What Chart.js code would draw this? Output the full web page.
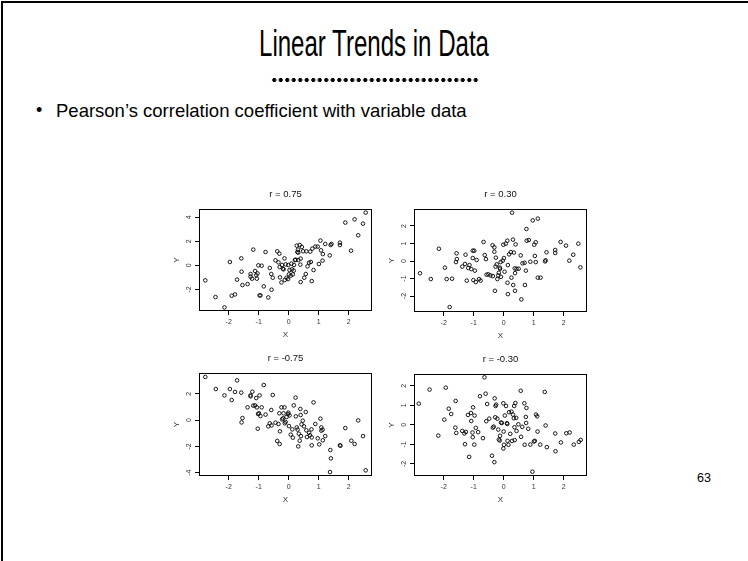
<!DOCTYPE html>
<html>
<head>
<meta charset="utf-8">
<script src="https://cdn.jsdelivr.net/npm/chart.js@4.4.0/dist/chart.umd.min.js"></script>
<style>
  body { margin:0; width:748px; height:561px; background:#fff; position:relative; overflow:hidden;
         font-family:"Liberation Sans", Arial, sans-serif; color:#000; }
  #frame { position:absolute; left:1px; top:1px; width:800px; height:600px;
           border-top:2px solid #000; border-left:2px solid #000; }
  #title { position:absolute; left:0; width:748px; top:24px; text-align:center;
           font-family:"Liberation Sans", Arial, sans-serif; font-size:37px; line-height:40px;
           transform:scaleX(0.65); transform-origin:374px 0; }
  #dots { position:absolute; left:271px; top:77px; width:208px; height:6px;
          background-image:radial-gradient(circle, #000 1.8px, transparent 2.2px);
          background-size:6.5px 6px; }
  #bullet { position:absolute; left:36px; top:100px; font-size:18px; }
  #text { position:absolute; left:56px; top:100px; font-size:18.5px; }
  #page { position:absolute; left:697px; top:471px; font-size:12.5px; }
  canvas { position:absolute; }
</style>
</head>
<body>
<div id="frame"></div>
<div id="title">Linear Trends in Data</div>
<div id="dots"></div>
<div id="bullet">•</div>
<div id="text">Pearson’s correlation coefficient with variable data</div>
<div id="page">63</div>
<canvas id="p1" width="220" height="165" style="left:160px;top:180px"></canvas>
<canvas id="p2" width="220" height="165" style="left:375px;top:180px"></canvas>
<canvas id="p3" width="220" height="165" style="left:160px;top:344px"></canvas>
<canvas id="p4" width="220" height="165" style="left:375px;top:345px"></canvas>
<script>
// r = 0.75
const xPos75 = [-2.78,-2.44,-2.14,-1.96,-1.9,-1.79,-1.72,-1.58,-1.57,-1.54,
  -1.37,-1.27,-1.27,-1.22,-1.18,-1.12,-1.08,-1.06,-1.04,-1.01,
  -0.97,-0.94,-0.9,-0.83,-0.77,-0.68,-0.63,-0.58,-0.57,-0.53,
  -0.44,-0.38,-0.34,-0.31,-0.3,-0.29,-0.24,-0.22,-0.19,-0.17,
  -0.14,-0.13,-0.1,-0.07,-0.02,-0.01,0.01,0.03,0.07,0.09,
  0.11,0.14,0.17,0.18,0.21,0.23,0.27,0.29,0.31,0.32,
  0.32,0.37,0.39,0.4,0.4,0.44,0.48,0.52,0.57,0.59,
  0.63,0.68,0.72,0.74,0.77,0.79,0.83,0.89,0.97,1.01,
  1.06,1.08,1.13,1.14,1.22,1.37,1.4,1.43,1.71,1.71,
  1.89,2.08,2.2,2.32,2.48,2.57];
const yPos75 = [-1.25,-2.64,-3.5,0.28,-2.53,-2.42,-1.19,0.58,-0.53,-1.64,
  -1.56,-0.72,-0.94,-1.11,1.31,-0.47,-0.83,-1.11,-0.67,0,
  -2.5,-2.5,-0.03,-1.75,1.11,-2.67,-0.22,-0.72,-2.03,-1.03,
  0.42,1.17,0.25,0.97,-0.14,-1.0,-1.42,0.03,-0.28,-0.33,
  0.58,-1.22,0.08,-1.03,-1.14,0.03,-0.75,-0.39,-0.86,0.14,
  -0.33,-0.75,-0.44,0.03,0.44,0.47,1.64,1.11,1.31,0.44,
  1.06,1.69,0.06,-1.39,0.56,1.53,1.17,-1.03,-0.72,1.17,
  -0.08,0.22,1.14,0.28,-1.31,1.39,-0.39,1.56,1.56,0.11,
  2.06,1.25,0.39,0.94,1.78,0.83,1.69,1.78,1.69,1.89,
  3.56,1.22,3.83,2.5,3.47,4.39];

// r = 0.30
const xPos30 = [-2.79,-2.43,-2.16,-1.96,-1.9,-1.8,-1.72,-1.59,-1.57,-1.56,
  -1.38,-1.29,-1.27,-1.23,-1.18,-1.14,-1.08,-1.03,-1.03,-1.01,
  -0.98,-0.96,-0.93,-0.9,-0.82,-0.77,-0.67,-0.63,-0.59,-0.57,
  -0.51,-0.44,-0.37,-0.36,-0.31,-0.31,-0.29,-0.27,-0.26,-0.23,
  -0.21,-0.18,-0.16,-0.13,-0.12,-0.1,-0.09,-0.03,-0.01,0.01,
  0.03,0.07,0.12,0.13,0.14,0.14,0.18,0.24,0.26,0.28,
  0.31,0.32,0.34,0.37,0.38,0.38,0.4,0.43,0.5,0.57,
  0.59,0.63,0.7,0.71,0.74,0.76,0.77,0.84,0.89,0.97,
  1.02,1.04,1.07,1.07,1.14,1.14,1.23,1.38,1.4,1.43,
  1.72,1.72,1.9,2.08,2.19,2.32,2.49,2.56];
const yPos30 = [-0.7,-1.03,0.7,-0.38,-1.03,-2.63,-1.01,-0.06,0.44,0.11,
  -0.32,-0.17,0.36,-1.12,-0.4,-0.23,-0.46,0.17,0.59,-1.09,
  0.59,-0.55,-1.2,0.06,-1.03,-1.12,1.09,0.34,0.11,-0.78,
  -0.76,-0.82,0.9,-0.86,0.78,0.53,-1.7,-0.32,0.19,-0.19,
  -1.03,-0.82,-0.67,-0.38,-0.44,-0.06,-0.9,0.02,0.93,0.17,
  -0.61,0.99,1.16,-1.24,-1.89,-0.23,0.38,0.51,-0.95,2.76,
  1.22,-1.37,0.48,-0.42,-0.69,-1.7,0.95,-0.44,-0.44,0.32,
  -2.19,-0.13,-0.1,-1.37,-0.55,1.83,1.16,1.2,-0.04,2.32,
  0.93,0.29,1.07,-0.06,2.42,-0.95,-0.95,-0.02,0.04,0.5,
  0.63,0.46,1.09,0.88,0.02,0.36,0.99,-0.36];

// r = -0.75
const xNeg75 = [-2.78,-2.43,-2.14,-1.96,-1.9,-1.79,-1.72,-1.58,-1.57,-1.54,
  -1.37,-1.27,-1.27,-1.21,-1.18,-1.12,-1.08,-1.06,-1.03,-1.02,
  -0.99,-0.97,-0.94,-0.9,-0.83,-0.77,-0.68,-0.63,-0.58,-0.57,
  -0.53,-0.44,-0.38,-0.34,-0.31,-0.3,-0.29,-0.24,-0.22,-0.19,
  -0.17,-0.14,-0.13,-0.1,-0.07,-0.02,-0.01,0.01,0.03,0.07,
  0.12,0.14,0.17,0.23,0.24,0.27,0.3,0.32,0.34,0.37,
  0.39,0.4,0.41,0.43,0.47,0.51,0.57,0.59,0.61,0.68,
  0.71,0.76,0.77,0.77,0.83,0.89,0.97,1.02,1.06,1.09,
  1.09,1.13,1.14,1.22,1.39,1.41,1.38,1.71,1.73,1.89,
  2.09,2.2,2.32,2.48,2.57];
const yNeg75 = [3.27,2.35,1.87,2.35,1.52,2.13,3.01,2.08,-0.18,0.15,
  0.96,1.87,1.8,2.15,1.09,1.11,1.67,0.96,-0.66,0.46,
  0.51,1.87,0.3,0.96,2.66,0.41,-0.48,-0.25,0.76,-0.41,
  1.9,-0.2,-1.59,-0.3,0.51,-1.82,-0.86,0.96,0.05,0.13,
  0.51,0.96,-0.25,-0.15,0.23,0.46,0.56,-0.46,0.35,-1.11,
  -0.71,-1.34,1.11,1.7,0.28,-0.56,-0.73,-2.0,-1.04,-1.57,
  0.84,0.38,-1.22,-0.33,-0.05,-0.48,0.61,-0.78,-1.29,-0.96,
  -1.16,-0.71,-1.32,-1.92,1.34,-0.3,-1.39,-1.85,0.1,-0.56,
  -0.81,-0.73,-1.54,-1.22,-2.28,-2.91,-3.95,-1.92,-1.95,-0.61,
  -1.57,-1.82,-0.03,-1.22,-3.82];

// r = -0.30
const xNeg30 = [-2.83,-2.47,-2.18,-1.98,-1.93,-1.83,-1.75,-1.61,-1.6,-1.58,
  -1.38,-1.31,-1.29,-1.26,-1.19,-1.15,-1.09,-1.08,-1.04,-1.03,
  -1.02,-0.98,-0.97,-0.93,-0.85,-0.79,-0.69,-0.64,-0.6,-0.58,
  -0.55,-0.48,-0.39,-0.36,-0.33,-0.3,-0.31,-0.28,-0.27,-0.25,
  -0.21,-0.18,-0.16,-0.13,-0.12,-0.09,-0.06,-0.01,0.0,-0.01,
  0.01,0.04,0.08,0.11,0.12,0.13,0.16,0.18,0.22,0.26,
  0.28,0.31,0.35,0.34,0.36,0.37,0.39,0.42,0.43,0.49,
  0.57,0.58,0.62,0.69,0.7,0.74,0.75,0.76,0.82,0.89,
  0.96,1.01,1.04,1.08,1.12,1.13,1.22,1.37,1.4,1.44,
  1.72,1.73,1.91,2.09,2.2,2.34,2.51,2.57];
const yNeg30 = [1.09,1.81,-0.55,0.27,1.91,0.83,0.56,-0.14,1.23,-0.41,
  -0.31,-0.44,-0.99,-0.36,0.51,-1.64,0.61,0.2,-0.39,-0.63,
  0.9,-1.01,0.48,-0.15,-0.37,1.47,-0.68,2.44,1.6,0.19,
  1.07,0.32,-1.58,-0.14,-0.09,1.36,-1.91,0.39,0.97,1.04,
  0.32,-0.24,-0.75,-0.8,-0.56,0.12,0.1,1.11,-0.34,-1.21,
  -1.02,0.48,0.97,0.09,0.05,-0.82,-1.02,0.65,-0.46,0.68,
  -0.82,0.53,0.97,0.34,-0.12,-0.78,1.12,0.36,-0.31,0.03,
  1.75,-0.61,-0.1,1.11,-1.02,0.41,0.1,0.87,-0.2,-1.01,
  -2.4,-0.85,-0.82,0.53,0.44,-0.34,-1.01,1.69,-0.03,-1.14,
  -0.44,-1.35,-0.9,-0.43,-0.39,-1.01,-0.87,-0.77];

const FONT = '"Liberation Sans", Arial, sans-serif';

// R-style decorations: box, rotated y tick labels, axis names, panel title
const rStyle = {
  id: 'rStyle',
  afterDraw(chart, args, opts) {
    const ctx = chart.ctx;
    const a = chart.chartArea;
    const yScale = chart.scales.y;
    const cx = (a.left + a.right) / 2;
    ctx.save();
    ctx.strokeStyle = '#000';
    ctx.lineWidth = 1;
    ctx.strokeRect(a.left + 0.5, a.top + 0.5, a.right - a.left - 1, a.bottom - a.top - 1);
    ctx.fillStyle = '#333';
    ctx.textAlign = 'center';
    ctx.textBaseline = 'middle';
    ctx.font = '7px ' + FONT;
    yScale.ticks.forEach(t => {
      const py = yScale.getPixelForValue(t.value);
      ctx.save();
      ctx.translate(a.left - 10, py);
      ctx.rotate(-Math.PI / 2);
      ctx.fillText(t.label, 0, 0);
      ctx.restore();
    });
    ctx.font = '8px ' + FONT;
    ctx.fillText('X', cx, a.bottom + 24);
    ctx.save();
    ctx.translate(a.left - 22, (a.top + a.bottom) / 2);
    ctx.rotate(-Math.PI / 2);
    ctx.fillText('Y', 0, 0);
    ctx.restore();
    ctx.fillStyle = '#111';
    ctx.font = '9.5px ' + FONT;
    ctx.fillText(opts.title, cx, a.top - 15);
    ctx.restore();
  }
};

function makePlot(id, xs, ys, yMin, yMax, yStep, title, xHeight) {
  const ctx = document.getElementById(id).getContext('2d');
  return new Chart(ctx, {
    type: 'scatter',
    data: {
      datasets: [{
        data: xs.map((v, i) => ({ x: v, y: ys[i] })),
        pointStyle: 'circle',
        pointRadius: 1.8,
        pointBorderWidth: 0.9,
        borderColor: '#000',
        backgroundColor: 'rgba(0,0,0,0)'
      }]
    },
    options: {
      responsive: false,
      animation: false,
      events: [],
      layout: { padding: { left: 0, top: 29, right: 8, bottom: 0 } },
      plugins: { legend: { display: false }, tooltip: { enabled: false }, rStyle: { title: title } },
      scales: {
        x: {
          type: 'linear', min: -2.99, max: 2.78,
          afterFit: s => { s.height = xHeight; },
          ticks: { stepSize: 1, includeBounds: false, font: { size: 7, family: FONT }, color: '#333', padding: 3, maxRotation: 0 },
          grid: { drawOnChartArea: false, tickLength: 4, color: '#000' },
          border: { display: false }
        },
        y: {
          type: 'linear', min: yMin, max: yMax,
          afterFit: s => { s.width = 39; },
          ticks: { stepSize: yStep, includeBounds: false, display: false },
          grid: { drawOnChartArea: false, tickLength: 4, color: '#000' },
          border: { display: false }
        }
      }
    },
    plugins: [rStyle]
  });
}

window.onload = function() {
  makePlot('p1', xPos75, yPos75, -3.8, 4.69, 2, 'r = 0.75', 34);
  makePlot('p2', xPos30, yPos30, -2.91, 2.97, 1, 'r = 0.30', 33);
  makePlot('p3', xNeg75, yNeg75, -4.25, 3.57, 2, 'r = -0.75', 33);
  makePlot('p4', xNeg30, yNeg30, -2.62, 2.61, 1, 'r = -0.30', 34);
};
</script>
</body>
</html>
